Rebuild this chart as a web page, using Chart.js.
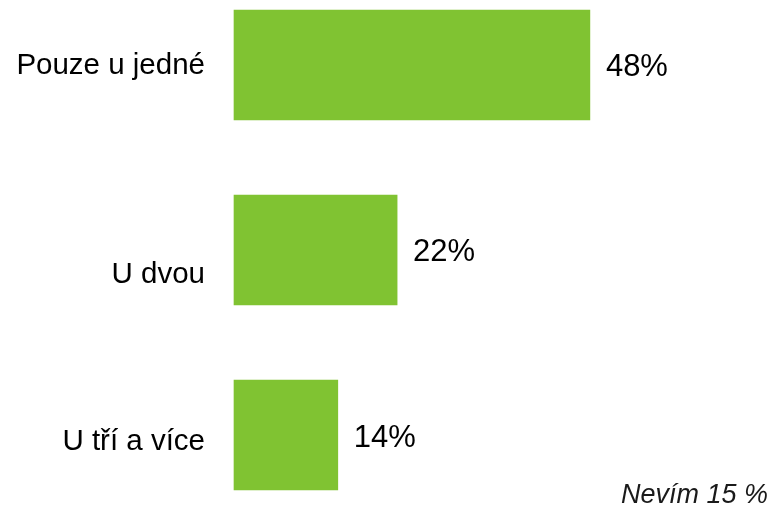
<!DOCTYPE html>
<html><head><meta charset="utf-8">
<script src="https://cdn.jsdelivr.net/npm/chart.js@4/dist/chart.umd.min.js"></script>
<style>html,body{margin:0;padding:0;background:#fff}#wrap{width:774px;height:507px;position:relative}</style>
</head><body><div id="wrap"><canvas id="c" width="774" height="507"></canvas></div>
<script>
const categories = ["Pouze u jedné", "U dvou", "U tří a více"];
const values = [48, 22, 14];
const footnote = "Nevím 15 %";

const FONT = "Liberation Sans, Arial, sans-serif";
const labelShift = [1, 25, 7];
const valueShift = [2, 2, 3];

const drawLabels = {
  id: 'drawLabels',
  afterDatasetsDraw(chart) {
    const ctx = chart.ctx;
    const y = chart.scales.y;
    const area = chart.chartArea;
    ctx.save();
    ctx.fillStyle = '#000';
    ctx.textBaseline = 'middle';
    ctx.font = '29.5px ' + FONT;
    ctx.textAlign = 'right';
    categories.forEach((c, i) => {
      ctx.fillText(c, area.left - 29, y.getPixelForValue(i) + labelShift[i]);
    });
    ctx.textAlign = 'left';
    ctx.font = '31px ' + FONT;
    const meta = chart.getDatasetMeta(0);
    meta.data.forEach((bar, i) => {
      ctx.fillText(values[i] + '%', bar.x + 16, bar.y + valueShift[i]);
    });
    ctx.font = 'italic 27px ' + FONT;
    ctx.textAlign = 'right';
    ctx.textBaseline = 'alphabetic';
    ctx.fillStyle = '#1a1a1a';
    ctx.fillText(footnote, chart.width - 6, chart.height - 4);
    ctx.restore();
  }
};

new Chart(document.getElementById('c'), {
  type: 'bar',
  data: {
    labels: categories,
    datasets: [{
      data: values,
      backgroundColor: '#80C332',
      borderWidth: 0,
      barThickness: 110,
      clip: false
    }]
  },
  options: {
    indexAxis: 'y',
    responsive: false,
    animation: false,
    layout: { padding: { left: 234, right: 21, top: 65, bottom: 72 } },
    plugins: { legend: { display: false }, tooltip: { enabled: false } },
    scales: {
      x: { display: false, min: 0, max: 70 },
      y: { display: false, offset: false }
    }
  },
  plugins: [drawLabels]
});
</script>
</body></html>
